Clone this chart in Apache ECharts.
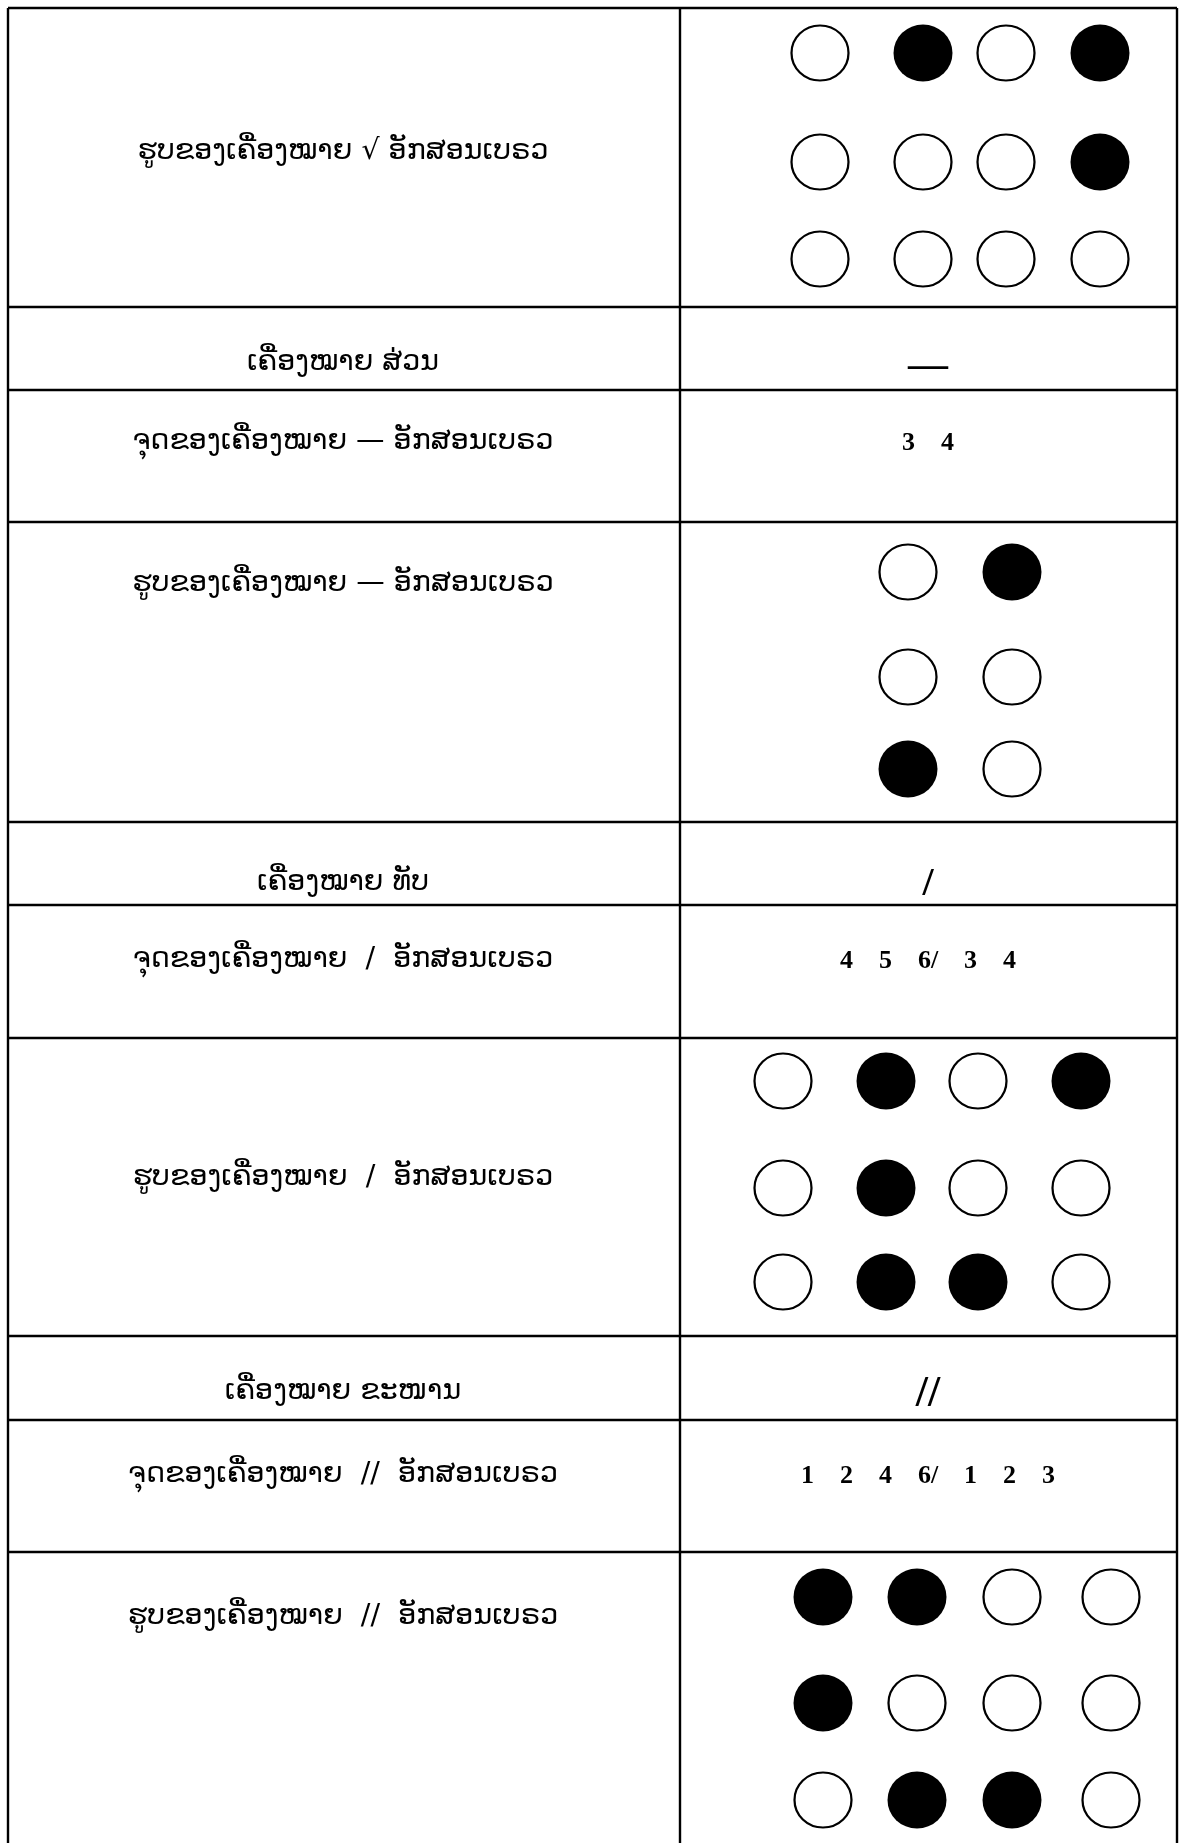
<!DOCTYPE html>
<html>
<head>
<meta charset="utf-8">
<script src="https://cdn.jsdelivr.net/npm/echarts@6/dist/echarts.min.js"></script>
<style>
html,body{margin:0;padding:0;background:#fff;}
#chart{width:1180px;height:1843px;}
</style>
</head>
<body>
<div id="chart"></div>
<script>
// ---------- DATA ----------
const leftLabels = [
  'ຮູບຂອງເຄື່ອງໝາຍ √ ອັກສອນເບຣວ',
  'ເຄື່ອງໝາຍ ສ່ວນ',
  'ຈຸດຂອງເຄື່ອງໝາຍ — ອັກສອນເບຣວ',
  'ຮູບຂອງເຄື່ອງໝາຍ — ອັກສອນເບຣວ',
  'ເຄື່ອງໝາຍ ທັບ',
  'ຈຸດຂອງເຄື່ອງໝາຍ  /  ອັກສອນເບຣວ',
  'ຮູບຂອງເຄື່ອງໝາຍ  /  ອັກສອນເບຣວ',
  'ເຄື່ອງໝາຍ ຂະໜານ',
  'ຈຸດຂອງເຄື່ອງໝາຍ  //  ອັກສອນເບຣວ',
  'ຮູບຂອງເຄື່ອງໝາຍ  //  ອັກສອນເບຣວ'
];
const signSymbols = ['—', '/', '//'];
const dotNumberLabels = ['3 4', '4 5 6/ 3 4', '1 2 4 6/ 1 2 3'];
// 1 = raised (filled) dot, 0 = empty dot
const brailleRoot = [[0,1,0,1],[0,0,0,1],[0,0,0,0]];
const brailleDash = [[0,1],[0,0],[1,0]];
const brailleSlash = [[0,1,0,1],[0,1,0,0],[0,1,1,0]];
const brailleDoubleSlash = [[1,1,0,0],[1,0,0,0],[0,1,1,0]];

// ---------- LAYOUT (pixel-like units on hidden value axes) ----------
const W = 1180, H = 1843;
const rowEdges = [8, 307, 390, 522, 822, 905, 1038, 1336, 1420, 1552];
const colEdges = [8, 680, 1177];
const leftCenterX = 343, rightCenterX = 928;
const labelY = [152, 363, 442, 584, 883, 960, 1178, 1392, 1475, 1617];
const symbolRows = [1, 4, 7];
const symbolFontSize = [40, 40, 44];
const symbolDy = [4, 2, 3];
const numberRows = [2, 5, 8];
const cellGrids = [
  {pattern: brailleRoot, xs: [820, 923, 1006, 1100], ys: [53, 162, 259]},
  {pattern: brailleDash, xs: [908, 1012], ys: [572, 677, 769]},
  {pattern: brailleSlash, xs: [783, 886, 978, 1081], ys: [1081, 1188, 1282]},
  {pattern: brailleDoubleSlash, xs: [823, 917, 1012, 1111], ys: [1597, 1703, 1800]}
];

// ---------- BUILD ----------
const lineSegs = [];
rowEdges.forEach(y => lineSegs.push([colEdges[0], y, colEdges[2], y]));
colEdges.forEach(x => lineSegs.push([x, rowEdges[0], x, H]));

const textItems = [];
leftLabels.forEach((t, i) => textItems.push([leftCenterX, labelY[i], t, 'lao', 28.5]));
signSymbols.forEach((s, k) => {
  const r = symbolRows[k];
  textItems.push([rightCenterX, labelY[r] + symbolDy[k], s, 'serif', symbolFontSize[k]]);
});
dotNumberLabels.forEach((s, k) => {
  const r = numberRows[k];
  textItems.push([rightCenterX, labelY[r] + 1, s.split(' ').join('    '), 'serif', 26]);
});

const filled = [], empty = [];
cellGrids.forEach(c => {
  c.pattern.forEach((row, ri) => {
    row.forEach((v, ci) => {
      (v ? filled : empty).push([c.xs[ci], c.ys[ri]]);
    });
  });
});

const chart = echarts.init(document.getElementById('chart'), null, {renderer: 'canvas'});
chart.setOption({
  animation: false,
  backgroundColor: '#fff',
  grid: {left: 0, right: 0, top: 0, bottom: 0, containLabel: false},
  xAxis: {type: 'value', min: 0, max: W, show: false},
  yAxis: {type: 'value', min: 0, max: H, inverse: true, show: false},
  series: [
    {
      type: 'custom', silent: true,
      data: lineSegs,
      renderItem: (params, api) => {
        const a = api.coord([api.value(0), api.value(1)]);
        const b = api.coord([api.value(2), api.value(3)]);
        return {type: 'line', shape: {x1: a[0], y1: a[1], x2: b[0], y2: b[1]},
          style: {stroke: '#000', lineWidth: 2.4}};
      }
    },
    {
      type: 'scatter', silent: true,
      data: empty, symbol: 'circle', symbolSize: [57, 55],
      itemStyle: {color: '#fff', borderColor: '#000', borderWidth: 2.2, opacity: 1},
      emphasis: {disabled: true}
    },
    {
      type: 'scatter', silent: true,
      data: filled, symbol: 'circle', symbolSize: [59, 57],
      itemStyle: {color: '#000', borderColor: '#000', borderWidth: 0, opacity: 1},
      emphasis: {disabled: true}
    },
    {
      type: 'custom', silent: true,
      data: textItems.map(t => [t[0], t[1], t[2], t[3], t[4]]),
      dimensions: ['x', 'y', 'text', 'kind', 'size'],
      encode: {x: 0, y: 1},
      renderItem: (params, api) => {
        const item = textItems[params.dataIndex];
        const p = api.coord([item[0], item[1]]);
        const isLao = item[3] === 'lao';
        return {
          type: 'text', x: p[0], y: p[1],
          style: {
            text: item[2],
            fontSize: item[4],
            fontFamily: isLao ? '"DejaVu Sans", "Noto Sans", sans-serif' : '"Liberation Serif", "Times New Roman", serif',
            fontWeight: isLao ? 'normal' : 'bold',
            fill: '#000',
            align: 'center', verticalAlign: 'middle',
            textAlign: 'center', textVerticalAlign: 'middle'
          }
        };
      }
    }
  ]
});
</script>
</body>
</html>
